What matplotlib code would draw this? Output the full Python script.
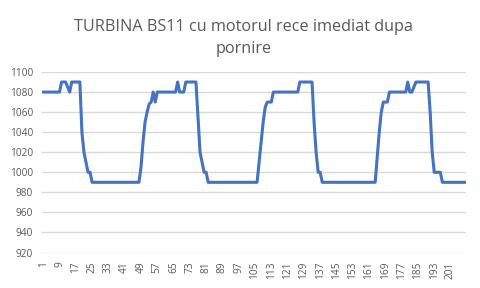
import matplotlib
matplotlib.use("Agg")
import matplotlib.pyplot as plt

title = "TURBINA BS11 cu motorul rece imediat dupa\npornire"

# rpm readings, one per sample (samples 1..208)
rpm = [
    1080, 1080, 1080, 1080, 1080, 1080, 1080, 1080, 1080, 1090, 1090, 1090, 1085, 1080, 1090, 1090,
    1090, 1090, 1090, 1040, 1020, 1010, 1000, 1000, 990, 990, 990, 990, 990, 990, 990, 990,
    990, 990, 990, 990, 990, 990, 990, 990, 990, 990, 990, 990, 990, 990, 990, 990,
    1005, 1030, 1050, 1060, 1068, 1070, 1080, 1070, 1080, 1080, 1080, 1080, 1080, 1080, 1080, 1080,
    1080, 1080, 1090, 1080, 1080, 1080, 1090, 1090, 1090, 1090, 1090, 1090, 1055, 1020, 1010, 1000,
    1000, 990, 990, 990, 990, 990, 990, 990, 990, 990, 990, 990, 990, 990, 990, 990,
    990, 990, 990, 990, 990, 990, 990, 990, 990, 990, 1010, 1030, 1050, 1065, 1070, 1070,
    1070, 1080, 1080, 1080, 1080, 1080, 1080, 1080, 1080, 1080, 1080, 1080, 1080, 1080, 1090, 1090,
    1090, 1090, 1090, 1090, 1090, 1050, 1020, 1000, 1000, 990, 990, 990, 990, 990, 990, 990,
    990, 990, 990, 990, 990, 990, 990, 990, 990, 990, 990, 990, 990, 990, 990, 990,
    990, 990, 990, 990, 1015, 1040, 1060, 1070, 1070, 1070, 1080, 1080, 1080, 1080, 1080, 1080,
    1080, 1080, 1080, 1090, 1080, 1080, 1085, 1090, 1090, 1090, 1090, 1090, 1090, 1090, 1060, 1020,
    1000, 1000, 1000, 1000, 990, 990, 990, 990, 990, 990, 990, 990, 990, 990, 990, 990,
]
samples = list(range(1, len(rpm) + 1))
x_ticks = samples[::8]
y_ticks = list(range(920, 1101, 20))

plt.rcParams['font.family'] = ['Open Sans', 'DejaVu Sans']

fig = plt.figure(figsize=(4.8, 2.88), dpi=100)
ax = fig.add_axes([42 / 480, 1 - 252.5 / 288, 424 / 480, 180.5 / 288])

ax.plot(samples, rpm, color='#4472C4', linewidth=2.2, solid_joinstyle='round')

ax.set_ylim(920, 1100)
ax.set_xlim(0.4, len(rpm) + 0.6)
ax.set_yticks(y_ticks)
ax.set_xticks(x_ticks)
ax.set_xticklabels([str(t) for t in x_ticks], rotation=90)
ax.tick_params(axis='both', length=0, labelsize=7.3, colors='#595959')
ax.tick_params(axis='x', pad=6.5)
ax.tick_params(axis='y', pad=6.5)
ax.grid(axis='y', color='#D9D9D9', linewidth=1)
ax.set_axisbelow(True)
for s in ax.spines.values():
    s.set_visible(False)

fig.text(244 / 480, 1 - 38 / 288, title, ha='center', va='center', fontsize=11.7,
         color='#595959', linespacing=1.45)

fig.savefig("out.png", dpi=100)
